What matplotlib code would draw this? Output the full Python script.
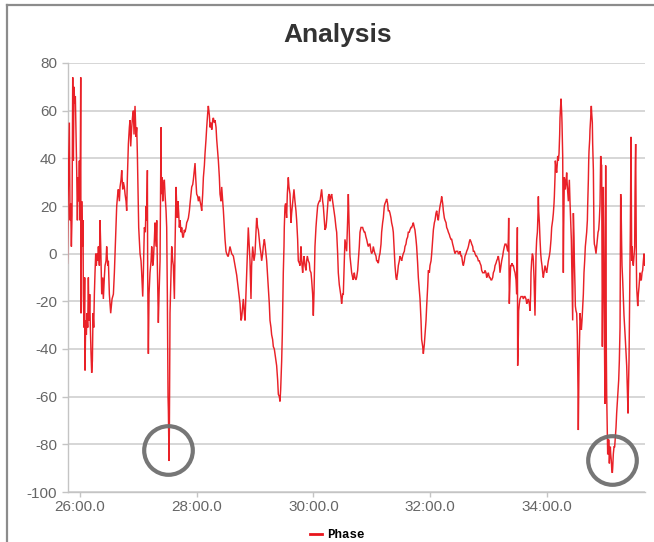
import matplotlib
matplotlib.use("Agg")
import matplotlib.pyplot as plt
from matplotlib.lines import Line2D
from matplotlib.ticker import FuncFormatter, FixedLocator

plt.rcParams["axes.unicode_minus"] = False

# ---------------- data (time in minutes, phase value) ----------------
seg_a = [(25.783, -4), (25.795, 22), (25.817, 55), (25.829, 14), (25.840, 21), (25.852, 3), (25.863, 16),
         (25.875, 74), (25.886, 39), (25.897, 70), (25.909, 63), (25.920, 66), (25.932, 50), (25.943, 35),
         (25.955, 14), (25.966, 32), (25.977, 22), (25.989, 39), (26.000, 14), (26.012, 74), (26.017, -25),
         (26.029, 22), (26.040, 3), (26.052, 14), (26.057, -17), (26.069, -31), (26.080, -10), (26.086, -49),
         (26.097, -28), (26.109, -34), (26.120, -25), (26.132, -31), (26.143, -10), (26.155, -28), (26.166, -17),
         (26.177, -31), (26.189, -42), (26.200, -50), (26.212, -45), (26.223, -25), (26.235, -31), (26.246, -17),
         (26.257, -8), (26.269, 0), (26.280, -5), (26.292, 0), (26.303, -3), (26.315, 3), (26.332, -5),
         (26.343, 14), (26.355, 3), (26.372, -17), (26.389, -10), (26.400, -19), (26.417, -10), (26.429, -5),
         (26.446, -3), (26.457, 3), (26.475, -5), (26.486, -3), (26.503, -17), (26.526, -25), (26.549, -19),
         (26.572, -17), (26.589, -8), (26.600, 0), (26.617, 11), (26.629, 20), (26.646, 25), (26.657, 27),
         (26.675, 22), (26.686, 28), (26.703, 31), (26.715, 35), (26.732, 27), (26.743, 30), (26.760, 28),
         (26.772, 25), (26.789, 22), (26.800, 18), (26.812, 32), (26.829, 46), (26.846, 53), (26.857, 56),
         (26.869, 45), (26.886, 53), (26.903, 58), (26.915, 60), (26.926, 50), (26.943, 62), (26.960, 49),
         (26.972, 53), (26.983, 42), (26.995, 25), (27.006, 11), (27.017, 6), (27.029, 0), (27.046, -3),
         (27.057, -8), (27.075, -18), (27.086, -8), (27.103, 11), (27.120, 9), (27.132, 20), (27.143, 14),
         (27.155, 35), (27.160, -8), (27.172, -42), (27.183, -17), (27.200, -8), (27.218, -3), (27.229, 3),
         (27.246, -5), (27.257, -3), (27.275, 6), (27.286, 13), (27.303, 3), (27.315, 14), (27.326, -5),
         (27.343, -29), (27.355, -17), (27.372, -3), (27.389, 53), (27.395, 25), (27.406, 32), (27.418, 22),
         (27.429, 28), (27.446, 31), (27.457, 25), (27.475, 18), (27.486, 11), (27.497, -17), (27.509, -60),
         (27.515, -66), (27.526, -87), (27.532, -73), (27.543, -25), (27.555, -14), (27.572, 3), (27.589, -3),
         (27.600, -5), (27.618, -19), (27.629, 3), (27.646, 28), (27.658, 20), (27.669, 15), (27.680, 22),
         (27.692, 17), (27.703, 11), (27.715, 14), (27.732, 9), (27.743, 11), (27.760, 7), (27.772, 7),
         (27.789, 10), (27.800, 9), (27.818, 11), (27.829, 13), (27.846, 14), (27.858, 15), (27.875, 18),
         (27.886, 21), (27.903, 25), (27.915, 28), (27.932, 29), (27.943, 31), (27.960, 35), (27.972, 38),
         (27.983, 32), (28.000, 25), (28.018, 24), (28.029, 22), (28.046, 24), (28.058, 22), (28.075, 20),
         (28.086, 18), (28.103, 25), (28.115, 32), (28.132, 37), (28.143, 42), (28.160, 48), (28.172, 53),
         (28.189, 59), (28.200, 62), (28.218, 58), (28.229, 53), (28.246, 55), (28.258, 52), (28.275, 56),
         (28.286, 57), (28.303, 55), (28.315, 56), (28.332, 53), (28.343, 48), (28.360, 43), (28.372, 39),
         (28.389, 32), (28.400, 25), (28.418, 22), (28.429, 28), (28.446, 22), (28.458, 18), (28.475, 11),
         (28.486, 6), (28.503, 1), (28.515, 0), (28.532, -1), (28.543, -1)]

seg_b = [(28.571, 3), (28.600, 0), (28.629, -1), (28.657, -5), (28.686, -9), (28.714, -15), (28.743, -21),
         (28.760, -28), (28.771, -27), (28.788, -22), (28.800, -19), (28.817, -25), (28.829, -28), (28.845, -17),
         (28.857, -8), (28.874, 3), (28.885, 11), (28.902, 3), (28.914, -3), (28.931, -19), (28.942, -5),
         (28.960, 3), (28.983, -3), (29.000, 0), (29.017, 9), (29.028, 15), (29.045, 11), (29.057, 10),
         (29.074, 6), (29.085, 3), (29.102, 0), (29.114, -3), (29.131, 0), (29.142, 3), (29.160, 6),
         (29.171, 4), (29.188, 0), (29.200, -3), (29.217, -10), (29.228, -15), (29.245, -21), (29.257, -28),
         (29.274, -31), (29.285, -34), (29.302, -36), (29.314, -39), (29.331, -40), (29.342, -42), (29.360, -45),
         (29.371, -47), (29.388, -53), (29.400, -59), (29.417, -60), (29.428, -62), (29.440, -57), (29.457, -45),
         (29.468, -34), (29.480, -17), (29.485, -8), (29.497, 3), (29.502, 11), (29.514, 20), (29.525, 21),
         (29.542, 15), (29.554, 25), (29.571, 32), (29.582, 28), (29.600, 25), (29.611, 17), (29.617, 13),
         (29.628, 17), (29.640, 20), (29.657, 24), (29.668, 27), (29.685, 22), (29.702, 18), (29.714, 14),
         (29.731, 6), (29.742, -3), (29.760, -4), (29.771, -5), (29.788, 3), (29.800, -3), (29.817, -8),
         (29.828, -4), (29.840, -1), (29.857, -5), (29.874, -7), (29.885, -3), (29.897, -1), (29.914, -3),
         (29.931, -4), (29.942, -7), (29.960, -8), (29.971, -11), (29.988, -17), (30.000, -26), (30.011, -17),
         (30.028, 3), (30.045, 11), (30.057, 15), (30.074, 20), (30.085, 21), (30.102, 22), (30.114, 22),
         (30.131, 25), (30.142, 27), (30.160, 22), (30.171, 20), (30.188, 14), (30.200, 10), (30.217, 11),
         (30.228, 14), (30.245, 20), (30.257, 24), (30.274, 25), (30.285, 22), (30.302, 24), (30.314, 25),
         (30.331, 22), (30.342, 20), (30.360, 17), (30.371, 15), (30.388, 11), (30.400, 9), (30.417, 0),
         (30.428, -8), (30.445, -13), (30.457, -15), (30.474, -18), (30.485, -21), (30.502, -17), (30.514, -17),
         (30.531, -3), (30.542, 6), (30.560, 3), (30.571, 1), (30.588, 14), (30.600, 25), (30.611, 14),
         (30.628, -1), (30.645, -5), (30.657, -8), (30.674, -10), (30.685, -11), (30.702, -8), (30.714, -10),
         (30.731, -11), (30.742, -10), (30.760, -7), (30.771, -3), (30.788, 3), (30.800, 9), (30.817, 11),
         (30.828, 11), (30.845, 11), (30.857, 10), (30.874, 9), (30.885, 9), (30.902, 7), (30.914, 6),
         (30.931, 4), (30.942, 3), (30.960, 4), (30.971, 4), (30.988, 1), (31.000, 0), (31.017, 1),
         (31.028, 3), (31.045, 1), (31.057, 0), (31.074, -1), (31.085, -3), (31.102, -3), (31.114, -4),
         (31.131, -1), (31.142, 0), (31.160, 4), (31.171, 9), (31.188, 13), (31.200, 15), (31.217, 20),
         (31.228, 21), (31.245, 22), (31.257, 23), (31.274, 21), (31.285, 18), (31.302, 18), (31.314, 17),
         (31.331, 15), (31.342, 13), (31.360, 11), (31.371, 9), (31.388, 1), (31.400, -5), (31.417, -10),
         (31.428, -11), (31.445, -8), (31.457, -5), (31.474, -3), (31.485, -1), (31.502, -2), (31.514, -3),
         (31.531, -1), (31.542, 0), (31.560, 1), (31.571, 3), (31.588, 4), (31.600, 6), (31.617, 7),
         (31.628, 9), (31.645, 9), (31.657, 10), (31.674, 11), (31.685, 11), (31.702, 12), (31.714, 13),
         (31.731, 11), (31.742, 10), (31.760, 6), (31.771, 3), (31.788, -4), (31.800, -10)]

seg_c = [(31.829, -19), (31.846, -28), (31.857, -36), (31.875, -39), (31.886, -42), (31.903, -38), (31.915, -34),
         (31.932, -28), (31.943, -22), (31.960, -14), (31.972, -7), (31.989, -8), (32.000, -5), (32.018, -3),
         (32.029, 0), (32.046, 6), (32.058, 10), (32.075, 13), (32.086, 14), (32.103, 17), (32.115, 18),
         (32.132, 15), (32.143, 14), (32.160, 18), (32.172, 20), (32.189, 22), (32.200, 24), (32.218, 21),
         (32.229, 18), (32.246, 15), (32.258, 14), (32.275, 13), (32.286, 11), (32.303, 10), (32.315, 9),
         (32.332, 8), (32.343, 7), (32.360, 6), (32.372, 6), (32.389, 4), (32.400, 3), (32.418, 1),
         (32.429, 0), (32.446, 1), (32.458, 1), (32.475, 1), (32.486, 0), (32.503, 0), (32.515, 1),
         (32.532, -1), (32.543, -1), (32.560, -4), (32.572, -5), (32.589, -3), (32.600, -1), (32.618, 0),
         (32.629, 1), (32.646, 2), (32.658, 3), (32.675, 5), (32.686, 6), (32.703, 5), (32.715, 4),
         (32.732, 3), (32.743, 1), (32.760, 1), (32.772, 0), (32.789, -1), (32.800, -1), (32.818, -2),
         (32.829, -3), (32.846, -3), (32.858, -4), (32.875, -5), (32.886, -7), (32.903, -8), (32.915, -8),
         (32.932, -8), (32.943, -7), (32.960, -8), (32.972, -10), (32.989, -9), (33.000, -8), (33.018, -10),
         (33.029, -10), (33.046, -11), (33.058, -11), (33.075, -10), (33.086, -8), (33.103, -7), (33.115, -5),
         (33.132, -4), (33.143, -3), (33.160, -2), (33.172, -1), (33.189, -4), (33.200, -8), (33.218, -5),
         (33.229, -3), (33.246, -1), (33.258, 1), (33.275, 3), (33.286, 4), (33.303, 4), (33.315, 3),
         (33.332, 1), (33.343, 6), (33.349, 15), (33.355, -3), (33.360, -21), (33.372, -11), (33.383, -5),
         (33.395, -5), (33.406, -4), (33.418, -5), (33.429, -5), (33.446, -7), (33.458, -8), (33.475, -11),
         (33.486, -17), (33.492, -3), (33.498, 11), (33.503, -47), (33.515, -34), (33.520, -24), (33.532, -21),
         (33.543, -19), (33.560, -18), (33.572, -18), (33.589, -18), (33.600, -19), (33.618, -18), (33.629, -18),
         (33.646, -19), (33.658, -21), (33.675, -20), (33.686, -19), (33.703, -21), (33.715, -24), (33.726, -17),
         (33.732, -8), (33.743, -3), (33.755, 0), (33.766, -1), (33.772, -3), (33.783, -10), (33.800, -26),
         (33.812, -10), (33.818, 0), (33.829, 6), (33.841, 9), (33.852, 17), (33.858, 24), (33.863, 18),
         (33.875, 13), (33.886, 6), (33.898, 0), (33.909, -3), (33.920, -5), (33.932, -8), (33.943, -10),
         (33.960, -7), (33.972, -5), (33.989, -7), (34.000, -8), (34.018, -5), (34.029, -3), (34.046, -1),
         (34.058, 1), (34.075, 6), (34.086, 11), (34.103, 14), (34.115, 17), (34.126, 21), (34.132, 24),
         (34.143, 32), (34.149, 39), (34.160, 36), (34.172, 34), (34.183, 38), (34.189, 41), (34.200, 39),
         (34.212, 42), (34.223, 50), (34.229, 57), (34.240, 62), (34.246, 65), (34.258, 59), (34.263, 55),
         (34.269, 48), (34.275, 41), (34.281, 18), (34.286, -8), (34.292, 11), (34.303, 32), (34.315, 30),
         (34.320, 27), (34.332, 30), (34.343, 34), (34.355, 28), (34.372, 22), (34.383, 28), (34.389, 31),
         (34.400, 22), (34.412, 14), (34.423, 6), (34.429, -3), (34.440, -17), (34.446, -28), (34.452, -3),
         (34.458, 17), (34.469, 7), (34.475, -3), (34.486, -14), (34.492, -22), (34.503, -24), (34.515, -25),
         (34.526, -34), (34.532, -45), (34.538, -59), (34.543, -74), (34.549, -59), (34.555, -45), (34.566, -34),
         (34.572, -25), (34.583, -28), (34.595, -32), (34.606, -28), (34.618, -22), (34.629, -17), (34.640, -8),
         (34.652, -3), (34.663, 3), (34.675, 6), (34.686, 9), (34.698, 14), (34.703, 20), (34.715, 31),
         (34.721, 39), (34.726, 43), (34.738, 48), (34.743, 52), (34.755, 57), (34.760, 60), (34.766, 62),
         (34.772, 59), (34.783, 55), (34.789, 46), (34.801, 35), (34.806, 22), (34.812, 7), (34.818, 4),
         (34.829, 3), (34.841, 1), (34.846, 0), (34.858, 3), (34.869, 6), (34.881, 9), (34.892, 10),
         (34.903, 14), (34.915, 21), (34.921, 32), (34.926, 41), (34.932, 39), (34.938, 37), (34.943, 37),
         (34.949, -3), (34.955, -39), (34.961, -17), (34.966, 11), (34.972, 28), (34.978, 11), (34.983, -11),
         (34.989, -31), (34.995, -52), (35.000, -63), (35.006, -17), (35.012, 37), (35.018, -3), (35.023, -41),
         (35.029, -59), (35.040, -75), (35.046, -84), (35.058, -84), (35.063, -78), (35.075, -88), (35.081, -85),
         (35.092, -81), (35.098, -84), (35.109, -87), (35.115, -90), (35.126, -92), (35.132, -90), (35.143, -84),
         (35.155, -81), (35.166, -81), (35.178, -77), (35.189, -73), (35.200, -67), (35.212, -62), (35.223, -57),
         (35.235, -53), (35.246, -45), (35.258, -31), (35.263, -3), (35.269, 25), (35.275, 22), (35.281, 11),
         (35.286, 3), (35.292, -5), (35.303, -11), (35.315, -19), (35.326, -26), (35.338, -31), (35.349, -36),
         (35.361, -42), (35.372, -47), (35.383, -57), (35.395, -67), (35.400, -59), (35.412, -45), (35.418, -31),
         (35.429, -8), (35.435, 11), (35.441, 32), (35.446, 49), (35.452, 25), (35.458, -3), (35.463, 3),
         (35.475, -3), (35.486, -5), (35.498, -1), (35.509, 3), (35.515, 25), (35.521, 39), (35.526, 46),
         (35.532, 18), (35.538, -3), (35.543, -14), (35.555, -19), (35.561, -22), (35.572, -17), (35.583, -14),
         (35.595, -10), (35.600, -8), (35.612, -11), (35.623, -11), (35.635, -8), (35.646, -7), (35.658, -3),
         (35.669, 0), (35.680, -5), (35.692, -3)]

# highlighted minima (circled in the original)
circle_t = [27.51, 35.12]
circle_v = [-82.4, -86.6]

x_ticks = [26, 28, 30, 32, 34]
y_ticks = [-100, -80, -60, -40, -20, 0, 20, 40, 60, 80]
title = "Analysis"
series_name = "Phase"

# ---------------- figure ----------------
points = seg_a + seg_b + seg_c
t_vals = [p[0] for p in points]
phase_vals = [p[1] for p in points]

W, H = 654, 542
fig = plt.figure(figsize=(W / 100, H / 100), dpi=100)
fig.patch.set_facecolor("white")

ax = fig.add_axes([68 / W, 1 - 492 / H, (645 - 68) / W, (492 - 63) / H])
ax.set_facecolor("white")

ax.plot(t_vals, phase_vals, color="#e8151c", lw=1.05, alpha=0.95,
        solid_joinstyle="miter", zorder=3)

ax.plot(circle_t, circle_v, "o", mfc="none", mec="#6f6f6f", ms=35, mew=3.0,
        alpha=0.95, zorder=4, clip_on=False)

ax.set_xlim(25.794, 35.686)
ax.set_ylim(-100, 80)

def fmt_time(m, pos=None):
    mm = int(m)
    ss = (m - mm) * 60
    return f"{mm:02d}:{ss:04.1f}"

ax.xaxis.set_major_locator(FixedLocator(x_ticks))
ax.xaxis.set_major_formatter(FuncFormatter(fmt_time))
ax.set_yticks(y_ticks)

ax.grid(axis="y", color="#cfcfcf", lw=1.2, zorder=0)
ax.grid(axis="x", visible=False)
for side in ("top", "right"):
    ax.spines[side].set_visible(False)
for side in ("left", "bottom"):
    ax.spines[side].set_color("#c4c4c4")
    ax.spines[side].set_linewidth(1.0)

ax.tick_params(axis="y", length=4.5, width=1.0, color="#c4c4c4", pad=3.5,
               labelcolor="#666666", labelsize=11)
ax.tick_params(axis="x", length=3.5, width=1.0, color="#c4c4c4", pad=2,
               labelcolor="#666666", labelsize=11)
for lab in ax.get_xticklabels() + ax.get_yticklabels():
    lab.set_fontfamily(["Liberation Sans", "DejaVu Sans"])

fig.text(338 / W, 1 - 35 / H, title, ha="center", va="center",
         fontsize=19, fontweight="bold", color="#333333",
         family=["Liberation Sans", "DejaVu Sans"])

handle = Line2D([], [], color="#e8151c", lw=2.0)
fig.legend([handle], [series_name], loc="center", bbox_to_anchor=(337 / W, 1 - 535 / H),
           frameon=False, handlelength=1.0, handletextpad=0.35, borderpad=0,
           prop=dict(family=["Liberation Mono", "DejaVu Sans Mono"], weight="bold", size=9))

# screenshot frame
fig.add_artist(Line2D([7 / W, 1.0], [1 - 5 / H, 1 - 5 / H], transform=fig.transFigure,
                      color="#8c8c8c", lw=1.6))
fig.add_artist(Line2D([7 / W, 7 / W], [1 - 5 / H, 0.0], transform=fig.transFigure,
                      color="#8c8c8c", lw=1.6))

fig.savefig("out.png", dpi=100, facecolor="white")
